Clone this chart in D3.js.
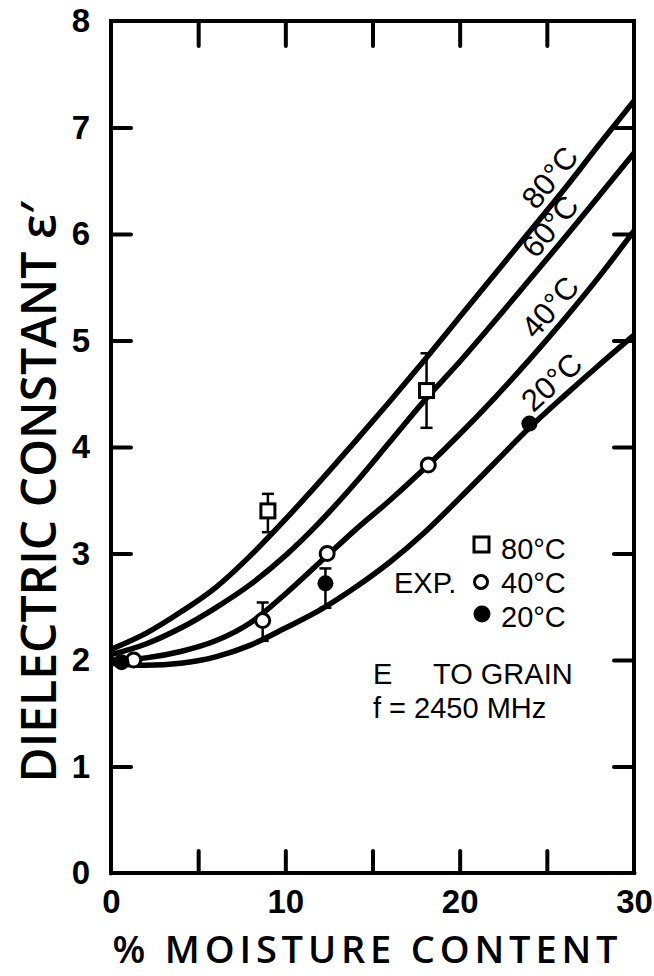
<!DOCTYPE html>
<html>
<head>
<meta charset="utf-8">
<script src="https://cdn.jsdelivr.net/npm/d3@7"></script>
<style>
	body { margin: 0; background: #fff; }
	text { font-family: "Liberation Sans", Arial, sans-serif; fill: #000; }
	.title { font-family: "Open Sans", "DejaVu Sans", sans-serif; font-weight: 600; }
	.tick line { stroke: #000; stroke-width: 4; stroke-linecap: round; }
	.domain { display: none; }
</style>
</head>
<body>
<script>
// curves: % moisture -> dielectric constant
var moisture = [0, 2, 4, 6, 8, 10, 12, 14, 16, 18, 20, 22, 24, 26, 28, 30];
var eps80 = [2.10, 2.25, 2.45, 2.68, 2.98, 3.32, 3.68, 4.05, 4.43, 4.82, 5.22, 5.62, 6.02, 6.42, 6.84, 7.25];
var eps60 = [2.05, 2.15, 2.30, 2.49, 2.71, 2.98, 3.30, 3.66, 4.05, 4.44, 4.80, 5.18, 5.57, 5.96, 6.36, 6.76];
var eps40 = [2.00, 2.02, 2.08, 2.18, 2.35, 2.62, 2.92, 3.22, 3.50, 3.80, 4.12, 4.46, 4.82, 5.20, 5.60, 6.03];
var eps20 = [1.97, 1.95, 1.97, 2.03, 2.14, 2.30, 2.47, 2.68, 2.92, 3.20, 3.52, 3.85, 4.18, 4.48, 4.77, 5.05];
var curveNames = ["80°C", "60°C", "40°C", "20°C"];

// experimental points (lo / hi = error bar ends)
var exp80 = [{x: 9.0, y: 3.40, lo: 3.20, hi: 3.56}, {x: 18.1, y: 4.53, lo: 4.18, hi: 4.88}];
var exp40 = [{x: 1.3, y: 2.00}, {x: 8.7, y: 2.37, lo: 2.18, hi: 2.54}, {x: 12.4, y: 3.00}, {x: 18.2, y: 3.83}];
var exp20 = [{x: 0.6, y: 1.98}, {x: 12.3, y: 2.72, lo: 2.49, hi: 2.86}, {x: 24.0, y: 4.22}];

// axis ticks
var xLabels = [0, 10, 20, 30];
var xMarks = [5, 10, 15, 20, 25];
var yLabels = [0, 1, 2, 3, 4, 5, 6, 7, 8];
var yMarks = [1, 2, 3, 4, 5, 6, 7];

window.onload = setChart();

function setChart(){

	var width = 654,
		height = 976;

	var svg = d3.select("body")
		.append("svg")
		.attr("width", width)
		.attr("height", height);

	// plot box
	var x = d3.scaleLinear().domain([0, 30]).range([111, 634]);
	var y = d3.scaleLinear().domain([0, 8]).range([873, 21]);

	// tick marks pointing inward on all four sides
	svg.append("g")
		.attr("transform", "translate(0," + y(0) + ")")
		.call(d3.axisBottom(x).tickValues(xMarks).tickSize(-22).tickFormat(""));
	svg.append("g")
		.attr("transform", "translate(0," + y(8) + ")")
		.call(d3.axisTop(x).tickValues(xMarks).tickSize(-25).tickFormat(""));
	svg.append("g")
		.attr("transform", "translate(" + x(0) + ",0)")
		.call(d3.axisLeft(y).tickValues(yMarks).tickSize(-20).tickFormat(""));
	svg.append("g")
		.attr("transform", "translate(" + x(30) + ",0)")
		.call(d3.axisRight(y).tickValues(yMarks).tickSize(-20).tickFormat(""));

	// tick labels
	svg.append("g")
		.attr("transform", "translate(0," + y(0) + ")")
		.call(d3.axisBottom(x).tickValues(xLabels).tickSize(0).tickPadding(17));
	svg.append("g")
		.attr("transform", "translate(" + x(0) + ",0)")
		.call(d3.axisLeft(y).tickValues(yLabels).tickSize(0).tickPadding(21));
	svg.selectAll(".tick text")
		.attr("font-family", null)
		.attr("font-size", null)
		.style("font-size", "33px")
		.style("font-weight", "700");

	// frame
	svg.append("rect")
		.attr("x", x(0))
		.attr("y", y(8))
		.attr("width", x(30) - x(0))
		.attr("height", y(0) - y(8))
		.attr("fill", "none")
		.attr("stroke", "#000")
		.attr("stroke-width", 4);

	// axis titles
	svg.append("text")
		.attr("class", "title")
		.attr("x", 365)
		.attr("y", 963)
		.attr("text-anchor", "middle")
		.attr("textLength", 505)
		.style("font-size", "38px")
		.text("% MOISTURE  CONTENT");
	svg.append("text")
		.attr("class", "title")
		.attr("transform", "translate(56,492) rotate(-90)")
		.attr("text-anchor", "middle")
		.style("font-size", "48px")
		.text("DIELECTRIC  CONSTANT  ε′");

	// model curves
	var line = d3.line()
		.x(function(d){ return x(d[0]); })
		.y(function(d){ return y(d[1]); })
		.curve(d3.curveMonotoneX);

	var series = [eps80, eps60, eps40, eps20];
	series.forEach(function(vals, i){
		var pts = moisture.map(function(m, j){ return [m, vals[j]]; });
		svg.append("path")
			.datum(pts)
			.attr("d", line)
			.attr("fill", "none")
			.attr("stroke", "#000")
			.attr("stroke-width", 5.5);

		// label lying along the curve near x = 26
		var at = 26,
			j = d3.bisectLeft(moisture, at),
			t = (at - moisture[j - 1]) / (moisture[j] - moisture[j - 1]),
			v = vals[j - 1] + t * (vals[j] - vals[j - 1]);
		var ang = Math.atan2(y(vals[j]) - y(vals[j - 1]), x(moisture[j]) - x(moisture[j - 1])) * 180 / Math.PI;
		svg.append("text")
			.attr("transform", "translate(" + x(at) + "," + y(v) + ") rotate(" + ang + ")")
			.attr("y", -8)
			.attr("text-anchor", "middle")
			.style("font-size", "31px")
			.text(curveNames[i]);
	});

	// error bars
	var withBars = exp80.concat(exp40, exp20).filter(function(d){ return d.lo !== undefined; });
	var bars = svg.selectAll(".ebar")
		.data(withBars)
		.enter()
		.append("g")
		.attr("class", "ebar")
		.attr("stroke", "#000")
		.attr("stroke-width", 2.5);
	bars.append("line")
		.attr("x1", function(d){ return x(d.x); })
		.attr("x2", function(d){ return x(d.x); })
		.attr("y1", function(d){ return y(d.lo); })
		.attr("y2", function(d){ return y(d.hi); });
	bars.append("line")
		.attr("x1", function(d){ return x(d.x) - 6; })
		.attr("x2", function(d){ return x(d.x) + 6; })
		.attr("y1", function(d){ return y(d.hi); })
		.attr("y2", function(d){ return y(d.hi); });
	bars.append("line")
		.attr("x1", function(d){ return x(d.x) - 6; })
		.attr("x2", function(d){ return x(d.x) + 6; })
		.attr("y1", function(d){ return y(d.lo); })
		.attr("y2", function(d){ return y(d.lo); });

	// markers
	svg.selectAll(".sq80")
		.data(exp80)
		.enter()
		.append("rect")
		.attr("x", function(d){ return x(d.x) - 7; })
		.attr("y", function(d){ return y(d.y) - 7; })
		.attr("width", 14)
		.attr("height", 14)
		.attr("fill", "#fff")
		.attr("stroke", "#000")
		.attr("stroke-width", 3);
	svg.selectAll(".c40")
		.data(exp40)
		.enter()
		.append("circle")
		.attr("cx", function(d){ return x(d.x); })
		.attr("cy", function(d){ return y(d.y); })
		.attr("r", 7)
		.attr("fill", "#fff")
		.attr("stroke", "#000")
		.attr("stroke-width", 3);
	svg.selectAll(".c20")
		.data(exp20)
		.enter()
		.append("circle")
		.attr("cx", function(d){ return x(d.x); })
		.attr("cy", function(d){ return y(d.y); })
		.attr("r", 8)
		.attr("fill", "#000");

	// legend
	var lg = svg.append("g").style("font-size", "29px");
	lg.append("rect")
		.attr("x", 474).attr("y", 537).attr("width", 15).attr("height", 15)
		.attr("fill", "none").attr("stroke", "#000").attr("stroke-width", 3);
	lg.append("circle")
		.attr("cx", 481).attr("cy", 582).attr("r", 6.5)
		.attr("fill", "none").attr("stroke", "#000").attr("stroke-width", 3);
	lg.append("circle")
		.attr("cx", 482).attr("cy", 614).attr("r", 8.5)
		.attr("fill", "#000");
	lg.append("text").attr("x", 501).attr("y", 559).text("80°C");
	lg.append("text").attr("x", 501).attr("y", 593).text("40°C");
	lg.append("text").attr("x", 501).attr("y", 627).text("20°C");
	lg.append("text").attr("x", 394).attr("y", 593).text("EXP.");
	lg.append("text").attr("x", 373).attr("y", 684).text("E");
	lg.append("text").attr("x", 433).attr("y", 684).text("TO GRAIN");
	lg.append("text").attr("x", 373).attr("y", 718).text("f = 2450 MHz");
};
</script>
</body>
</html>
